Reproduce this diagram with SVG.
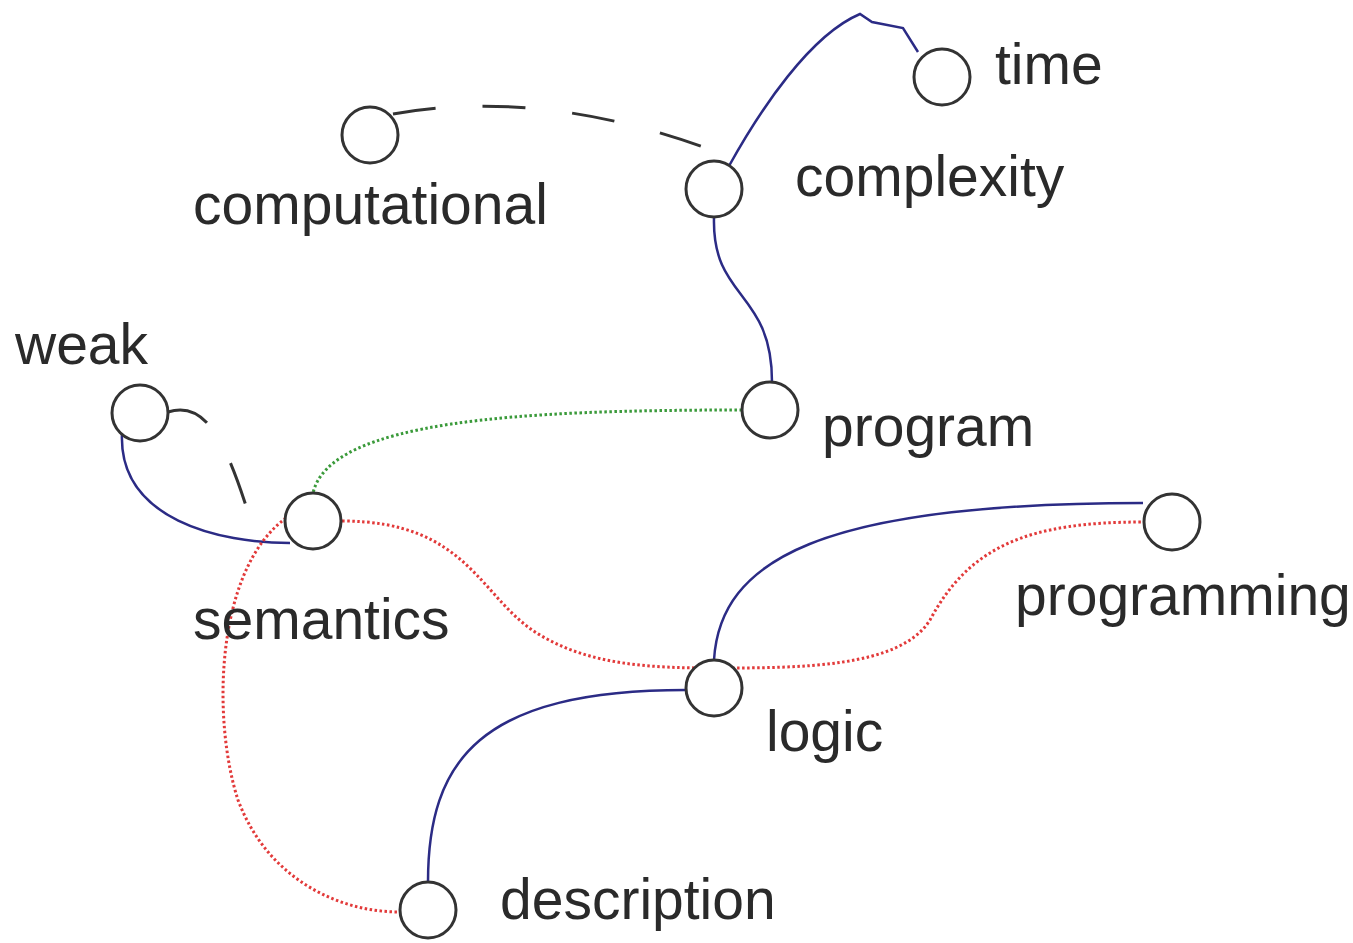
<svg xmlns="http://www.w3.org/2000/svg" width="1353" height="943" viewBox="0 0 1353 943">
<style>
.node circle{fill:#fff;stroke:#333;stroke-width:3}
.node text{font-family:"Liberation Sans",Arial,sans-serif;font-size:57px;fill:#2a2a2a}
.e{fill:none}
.blue{stroke:#2b2b85;stroke-width:2.5}
.dash{stroke:#333;stroke-width:3;stroke-dasharray:43 47}
.red{stroke:#e23a3a;stroke-width:3;stroke-dasharray:2.5 2.5}
.green{stroke:#3a9a3a;stroke-width:3;stroke-dasharray:2.5 2.5}
</style>
<rect width="1353" height="943" fill="#fff"/>
<g id="connectors">
<path class="e blue" d="M729,166 C760,110 810,35 860,14 L872,22 L903,28 L918,52"/>
<path class="e dash" d="M393,114 Q540,88 706,148"/>
<path class="e blue" d="M714,218 C712,300 772,290 772,382"/>
<path class="e green" d="M742,410 C520,410 330,420 313,493"/>
<path class="e blue" d="M122,433 C118,520 220,543 290,543"/>
<path class="e dash" d="M168,412 C205,400 225,440 248,512"/>
<path class="e red" d="M342,521 C470,521 480,600 540,635 C590,665 650,668 714,668 C800,668 900,668 930,620 C970,545 1030,522 1143,522"/>
<path class="e red" d="M286,518 C215,570 212,720 238,800 C268,880 340,912 399,912"/>
<path class="e blue" d="M428,882 C428,760 480,690 686,690"/>
<path class="e blue" d="M714,660 C720,560 820,503 1143,503"/>
</g>
<g id="time" class="node"><circle cx="942" cy="77" r="28"/><text x="995" y="84">time</text></g>
<g id="computational" class="node"><circle cx="370" cy="135" r="28"/><text x="193" y="224">computational</text></g>
<g id="complexity" class="node"><circle cx="714" cy="189" r="28"/><text x="795" y="196">complexity</text></g>
<g id="weak" class="node"><circle cx="140" cy="413" r="28"/><text x="15" y="364">weak</text></g>
<g id="program" class="node"><circle cx="770" cy="410" r="28"/><text x="822" y="446">program</text></g>
<g id="semantics" class="node"><circle cx="313" cy="521" r="28"/><text x="193" y="639">semantics</text></g>
<g id="programming" class="node"><circle cx="1172" cy="522" r="28"/><text x="1015" y="615">programming</text></g>
<g id="logic" class="node"><circle cx="714" cy="688" r="28"/><text x="766" y="751">logic</text></g>
<g id="description" class="node"><circle cx="428" cy="910" r="28"/><text x="500" y="919">description</text></g>
</svg>
